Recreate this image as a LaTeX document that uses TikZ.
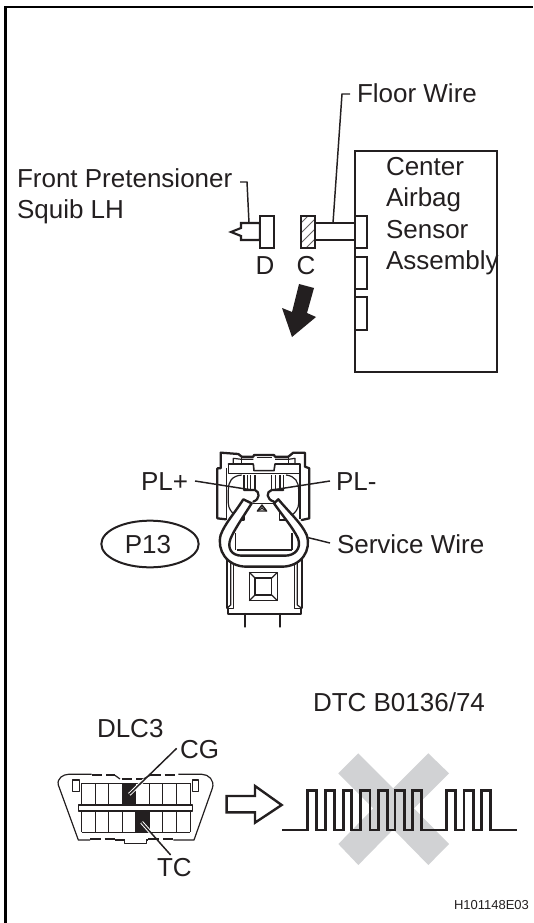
\documentclass[tikz,border=0pt]{standalone}
\usepackage{fontspec}
\usetikzlibrary{shapes.geometric,calc}
\setmainfont{Liberation Sans}
\definecolor{ink}{HTML}{231F20}
\definecolor{xgrey}{HTML}{D1D2D4}
\tikzset{
  lbl/.style={inner sep=0pt,outer sep=0pt,anchor=base west,text=ink,font=\fontsize{19.5}{23}\selectfont},
  lblc/.style={lbl,anchor=base},
  ln/.style={draw=ink,line width=1.6pt,line join=miter},
  hair/.style={draw=ink,line width=.7pt},
  lead/.style={draw=ink,line width=1.1pt},
  conn/.style={draw=ink,line width=1.7pt,line join=round,line cap=round},
  conf/.style={draw=ink,line width=.9pt,line join=round},
}
\begin{document}
\begin{tikzpicture}[x=.75pt,y=-.75pt]
\useasboundingbox (0,0) rectangle (533,923);
% frame
\draw[draw=black,line width=1.6pt] (5.5,923) -- (5.5,7) -- (533,7);

% ---------- top section
\node[lbl] (fw) at (357,103) {Floor Wire};
\node[lbl] (fp) at (17,188) {Front Pretensioner};
\node[lbl] (sq) at (17,219) {Squib LH};
\node[lbl] (t1) at (386,176) {Center};
\node[lbl] (t2) at (386,207) {Airbag};
\node[lbl] (t3) at (386,239) {Sensor};
\node[lbl] (t4) at (386,270) {Assembly};
\node[lblc] (dl) at (265,275) {D};
\node[lblc] (cl) at (306,275) {C};

\draw[ln] (497,372) -- (355,372) -- (355,151) -- (497,151) -- cycle;
\draw[ln,fill=white] (355,216) rectangle (367,248);
\draw[ln,fill=white] (355,257) rectangle (367,289);
\draw[ln,fill=white] (355,297) rectangle (367,330);
\draw[ln,fill=white] (315,223) rectangle (355,240);
\node[ln,fill=white,minimum width=10.5pt,minimum height=24pt,inner sep=0pt,outer sep=0pt] (cbox) at (308,232) {};
\begin{scope}
\clip (301,216) rectangle (315,248);
\foreach \o in {0,10,20,30,40}{\draw[hair,draw=ink!70] (300,224+\o) -- (316,208+\o);}
\end{scope}
\draw[ln] (301,216) rectangle (315,248);
\draw[ln,fill=white] (241,223) -- (260,223) -- (260,240) -- (241,240) -- (241,236) -- (231,232) -- (241,228) -- cycle;
\node[ln,fill=white,minimum width=10.5pt,minimum height=24pt,inner sep=0pt,outer sep=0pt] (dbox) at (267,232) {};
\coordinate (fwa) at (350,94);
\coordinate (fwb) at (342,94);
\coordinate (fwc) at (333,223);
\draw[lead] (fwa) -- (fwb) -- (fwc);
\coordinate (fpa) at (240,182);
\coordinate (fpb) at (247,182);
\coordinate (fpc) at (249,223);
\draw[lead] (fpa) -- (fpb) -- (fpc);
\fill[ink] (299,284) -- (314,288) -- (307,313) -- (316,317) -- (292,337) -- (282,308) -- (292,312) -- cycle;

% ---------- connector
\node[lbl] (plp) at (141,490) {PL+};
\node[lbl] (plm) at (336,490) {PL-};
\node[lbl] (sw) at (337,553) {Service Wire};
\node[draw=ink,line width=1.5pt,ellipse,minimum width=73pt,minimum height=35pt,inner sep=0pt,outer sep=0pt] (p13) at (150,544) {};
\node[lblc] (p13t) at (148,553) {P13};
\begin{scope}[shift={(200,440)},x=.25pt,y=-.25pt]
  % upper housing
  \draw[conn,fill=white] (78,238) -- (52,235) -- (52,85) -- (62,85) -- (62,38) -- (115,42) -- (125,50) -- (160,50) -- (162,45) -- (222,45) -- (225,50) -- (265,50) -- (280,38) -- (315,38) -- (315,80) -- (328,85) -- (328,235) -- (305,240);
  \draw[conf] (80,85) -- (80,238);
  \draw[conf] (300,85) -- (300,238);
  \draw[conn,line width=1.2pt] (85,72) -- (160,72) -- (162,92) -- (222,92) -- (225,72) -- (300,72);
  \draw[conf] (85,72) -- (85,100) -- (300,100) -- (300,72);
  \draw[conf] (125,52) -- (125,70); \draw[conf] (265,52) -- (265,70);
  \draw[conf] (100,72) -- (100,55) -- (125,58) -- (160,58);
  \draw[conf] (285,72) -- (285,55) -- (265,58) -- (225,58);
  \draw[conf] (170,52) -- (215,52);
  % cavities
  \draw[conf] (125,105) .. controls (95,108) and (85,125) .. (85,150) -- (85,190) .. controls (85,205) and (95,218) .. (105,225);
  \draw[conf] (258,105) .. controls (285,108) and (296,125) .. (296,150) -- (296,190) .. controls (296,205) and (286,218) .. (276,225);
  \foreach \xx in {132,142,152,165,215,227,240,250}{\draw[conf] (\xx,105) -- (\xx,150);}
  \draw[conn] (132,150) -- (165,150) .. controls (180,155) and (180,178) .. (160,185);
  \draw[conn] (250,150) -- (215,150) .. controls (198,155) and (198,178) .. (222,185);
  \draw[conf] (160,190) -- (225,190);
  % centre triangle
  \draw[conn,line width=1pt] (172,213) -- (186,195) -- (200,213) -- cycle;
  \draw[conf] (186,195) -- (186,205) -- (172,213); \draw[conf] (186,205) -- (200,213);
  % tabs below wire
  \draw[conf] (132,205) -- (132,240) -- (105,240);
  \draw[conf] (238,205) -- (238,240) -- (270,240);
  % lower housing
  \draw[conn,fill=white] (80,350) -- (80,505) -- (84,505) -- (84,522) -- (302,522) -- (302,505) -- (305,505) -- (305,350);
  \draw[conf] (92,365) -- (92,495) -- (80,505);
  \draw[conf] (100,365) -- (100,505) -- (84,505);
  \draw[conf] (292,365) -- (292,495) -- (305,505);
  \draw[conf] (284,365) -- (284,505) -- (302,505);
  \draw[conn,line width=1.1pt] (148,397) rectangle (232,482);
  \draw[conn,line width=1.1pt] (165,414) rectangle (215,465);
  \draw[conf] (148,397) -- (165,414); \draw[conf] (232,397) -- (215,414);
  \draw[conf] (148,482) -- (165,465); \draw[conf] (232,482) -- (215,465);
  \draw[conn] (135,522) -- (135,560);
  \draw[conn] (240,522) -- (240,560);
  % wire loop
  \draw[conn,fill=white,line width=1.8pt] (130,178)
    .. controls (100,225) and (75,250) .. (62,285)
    .. controls (50,330) and (80,380) .. (140,380)
    -- (245,380)
    .. controls (305,380) and (335,330) .. (320,285)
    .. controls (305,250) and (270,220) .. (235,178)
    -- (222,190)
    .. controls (250,230) and (280,265) .. (294,295)
    .. controls (305,325) and (285,347) .. (255,347)
    -- (125,347)
    .. controls (95,347) and (80,325) .. (92,295)
    .. controls (105,265) and (130,230) .. (155,190)
    -- cycle;
  \draw[conf,line width=1.2pt] (110,330) -- (275,330);
  \draw[conf] (106,280) -- (106,330); \draw[conf] (276,280) -- (276,330);
  \coordinate (plpt) at (156,150);
  \coordinate (plmt) at (216,150);
  \coordinate (swt) at (325,293);
\end{scope}
\coordinate (plps) at (195,481);
\coordinate (plms) at (330,481);
\coordinate (sws) at (330,543);
\draw[lead] (plps) -- (plpt);
\draw[lead] (plms) -- (plmt);
\draw[lead] (sws) -- (swt);

% ---------- DLC3
\node[lbl] (dlc) at (97,737) {DLC3};
\node[lbl] (cg) at (180,758) {CG};
\node[lbl] (tc) at (157,876) {TC};
\node[lbl] (dtc) at (313,711) {DTC B0136/74};
\begin{scope}[shift={(40,730)},x=.25pt,y=-.25pt]
  \draw[conf,fill=white] (253,328) -- (253,340) -- (320,340) -- (320,328);
  \draw[conf] (150,330) -- (115,330) -- (55,165) .. controls (50,145) and (70,133) .. (85,133) -- (155,133);
  \draw[conf] (415,133) -- (486,133) .. controls (505,133) and (525,150) .. (517,175) -- (462,330) -- (400,330);
  \draw[conf] (225,330) -- (253,330); \draw[conf] (320,330) -- (325,330);
  \draw[line width=1.3pt,draw=ink,dash pattern=on 8pt off 3pt] (155,136) -- (225,136);
  \draw[line width=1.3pt,draw=ink,dash pattern=on 8pt off 3pt] (245,147) -- (310,147);
  \draw[line width=1.3pt,draw=ink,dash pattern=on 8pt off 3pt] (330,136) -- (415,136);
  \draw[conf] (225,136) -- (240,147); \draw[conf] (310,147) -- (330,136);
  \draw[line width=1.3pt,draw=ink,dash pattern=on 8pt off 3pt] (150,326) -- (225,326);
  \draw[line width=1.3pt,draw=ink,dash pattern=on 8pt off 3pt] (325,326) -- (400,326);
  \fill[ink] (246,160) rectangle (288,225);
  \fill[ink] (288,243) rectangle (330,307);
  \foreach \xx in {125,165.6,206.2,246.8,287.4,328,368.6,409.2,450}{
    \draw[hair] (\xx,160) -- (\xx,225);
    \draw[hair] (\xx,243) -- (\xx,307);
  }
  \draw[hair] (125,160) -- (450,160);
  \draw[hair] (125,307) -- (450,307);
  \draw[conf,fill=white] (115,225) rectangle (457,243);
  \draw[conf,fill=white] (97,150) rectangle (118,185);
  \draw[conf,fill=white] (457,150) rectangle (476,185);
  \coordinate (cga) at (410,55);
  \coordinate (cgb) at (268,193);
  \coordinate (tca) at (392,375);
  \coordinate (tcb) at (305,277);
\end{scope}
\draw[draw=white,line width=2.6pt] (cgb) -- ($(cgb)!.32!(cga)$);
\draw[draw=white,line width=2.6pt] (tcb) -- ($(tcb)!.3!(tca)$);
\draw[lead] (cga) -- (cgb);
\draw[lead] (tca) -- (tcb);

% ---------- arrow and waveform
\begin{scope}[shift={(130,720)},x=.25pt,y=-.25pt]
  \draw[ln,line width=1.8pt,fill=white] (290,228) -- (375,228) -- (375,198) -- (455,255) -- (375,308) -- (375,277) -- (290,277) -- cycle;
\end{scope}
\begin{scope}[shift={(290,740)},x=.25pt,y=-.25pt]
  \fill[xgrey] (205,40) -- (310,145) -- (415,40) -- (477,100) -- (372,205) -- (477,312) -- (415,375) -- (310,268) -- (205,375) -- (145,312) -- (250,205) -- (145,100) -- cycle;
  \draw[ln,line width=1.8pt] (-24,270) -- (52,270) -- (52,152) -- (80,152) -- (80,270) -- (107,270) -- (107,152) -- (133,152) -- (133,270) -- (160,270) -- (160,152) -- (185,152) -- (185,270) -- (212,270) -- (212,152) -- (240,152) -- (240,270) -- (265,270) -- (265,152) -- (292,152) -- (292,270) -- (315,270) -- (315,152) -- (343,152) -- (343,270) -- (368,270) -- (368,152) -- (395,152) -- (395,270) -- (470,270) -- (470,152) -- (497,152) -- (497,270) -- (522,270) -- (522,152) -- (550,152) -- (550,270) -- (575,270) -- (575,152) -- (602,152) -- (602,270) -- (682,270);
\end{scope}
\node[inner sep=0pt,outer sep=0pt,anchor=base west,text=ink,font=\fontsize{9.75}{12}\selectfont] (code) at (454,909) {H101148E03};
\end{tikzpicture}
\end{document}
